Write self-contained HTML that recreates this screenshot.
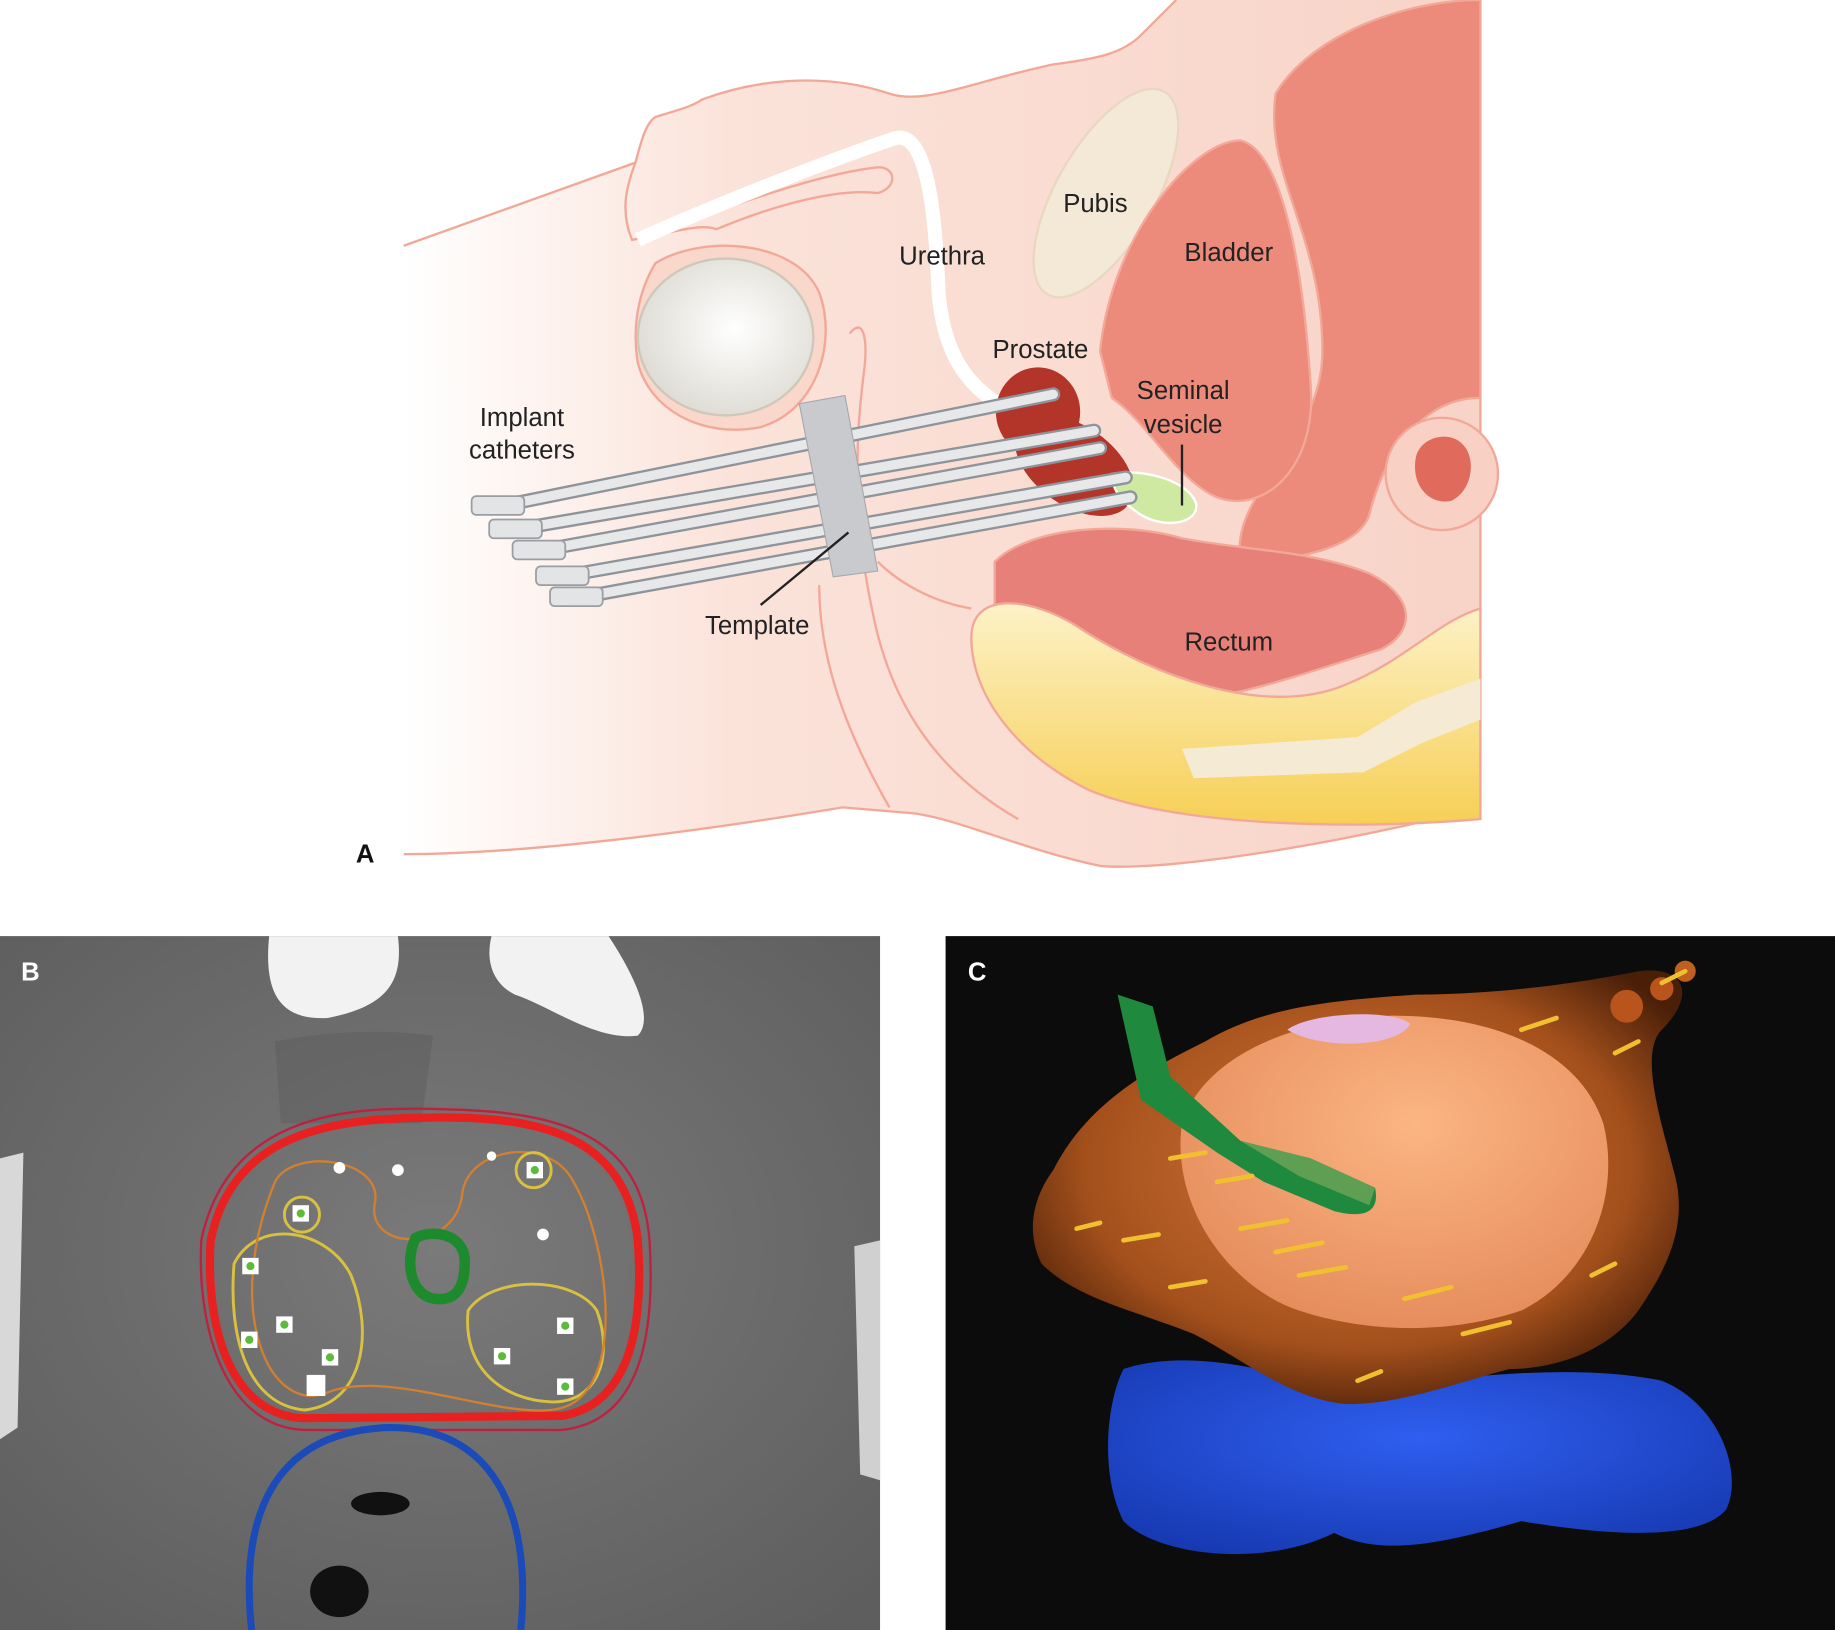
<!DOCTYPE html>
<html><head><meta charset="utf-8"><style>
html,body{margin:0;padding:0;background:#fff;}
svg{display:block;}
text{font-family:"Liberation Sans",Arial,sans-serif;}
</style></head><body>
<svg width="1835" height="1630" viewBox="0 0 1568 1393" preserveAspectRatio="none" xmlns="http://www.w3.org/2000/svg">
<defs>
<linearGradient id="skin" x1="0" x2="1" y1="0" y2="0">
<stop offset="0" stop-color="#ffffff"/><stop offset="0.3" stop-color="#fbe3da"/><stop offset="1" stop-color="#f8d3c7"/>
</linearGradient>
<radialGradient id="test" cx="0.55" cy="0.45" r="0.6">
<stop offset="0" stop-color="#ffffff"/><stop offset="1" stop-color="#dcdad2"/>
</radialGradient>
<linearGradient id="sac" x1="0" y1="0" x2="0" y2="1">
<stop offset="0" stop-color="#fdf2c8"/><stop offset="1" stop-color="#f6cf55"/>
</linearGradient>
<radialGradient id="org" cx="0.5" cy="0.45" r="0.6">
<stop offset="0" stop-color="#d8783a"/><stop offset="0.7" stop-color="#a4501c"/><stop offset="1" stop-color="#4a1f08"/>
</radialGradient>
<radialGradient id="peach" cx="0.55" cy="0.35" r="0.7">
<stop offset="0" stop-color="#fbb583"/><stop offset="1" stop-color="#e58a5a"/>
</radialGradient>
<radialGradient id="blu" cx="0.5" cy="0.4" r="0.7">
<stop offset="0" stop-color="#2f5ff0"/><stop offset="1" stop-color="#1638b0"/>
</radialGradient>
<radialGradient id="ct" cx="0.5" cy="0.45" r="0.7">
<stop offset="0" stop-color="#7a7a7a"/><stop offset="1" stop-color="#5e5e5e"/>
</radialGradient>
</defs>

<!-- Panel A -->
<path d="M345,210 L543,139 C548,120 552,105 560,100 C575,95 590,92 600,85 C640,70 700,60 760,80 C790,90 830,70 900,55 C940,50 960,45 975,30 L1005,0 L1265,0 L1265,690 C1150,720 1000,745 940,740 C870,725 820,700 780,695 L720,690 C600,710 450,730 345,730 Z" fill="url(#skin)"/>
<path d="M345,210 L543,139 C548,120 552,105 560,100 C575,95 590,92 600,85 C640,70 700,60 760,80 C790,90 830,70 900,55 C940,50 960,45 975,30 L1005,0 M1265,0 L1265,690 C1150,720 1000,745 940,740 C870,725 820,700 780,695 L720,690 C600,710 450,730 345,730" fill="none" stroke="#f2a898" stroke-width="2"/>
<!-- penis underside -->
<path d="M543,139 C535,160 530,180 540,205 C570,200 600,190 612,196 C650,180 710,160 750,165 C768,160 765,142 750,143 C700,148 620,178 555,200" fill="none" stroke="#f2a898" stroke-width="2"/>
<!-- scrotum -->
<path d="M560,225 C600,200 680,205 700,250 C715,290 700,350 650,365 C600,375 555,350 545,310 C540,280 545,250 560,225 Z" fill="#f9d7cb" stroke="#f2a898" stroke-width="2"/>
<ellipse cx="620" cy="288" rx="75" ry="67" fill="url(#test)" stroke="#cfc8b8" stroke-width="2"/>
<!-- perineum lines -->
<path d="M726,285 C738,270 742,290 738,320 C730,380 730,450 745,520 C760,600 800,660 870,700" fill="none" stroke="#f2a898" stroke-width="2"/>
<path d="M700,500 C700,560 720,620 760,690" fill="none" stroke="#f2a898" stroke-width="2"/>
<path d="M750,480 C770,500 800,515 830,520" fill="none" stroke="#f2a898" stroke-width="2"/>
<!-- pubis -->
<ellipse cx="945" cy="165" rx="42" ry="100" transform="rotate(30 945 165)" fill="#f3e9d6" stroke="#e9d8c0" stroke-width="2"/>
<!-- abdomen dark -->
<path d="M1090,80 C1120,30 1200,0 1265,0 L1265,340 C1220,340 1185,380 1170,440 C1160,470 1100,480 1060,480 C1050,420 1130,380 1130,300 C1130,200 1080,150 1090,80 Z" fill="#ec8a7c" stroke="#f2a898" stroke-width="2"/>
<!-- bladder -->
<path d="M940,300 C950,200 1020,120 1060,120 C1100,130 1115,250 1120,330 C1125,400 1080,440 1040,425 C1005,410 980,360 950,340 Z" fill="#ec8a7c" stroke="#f4a89a" stroke-width="2"/>
<!-- colon loop -->
<circle cx="1232" cy="405" r="48" fill="#f8d0c4" stroke="#f2a898" stroke-width="2"/>
<path d="M1210,390 C1215,372 1240,368 1250,380 C1262,392 1258,420 1240,428 C1222,432 1205,415 1210,390 Z" fill="#e06a5c"/>
<!-- rectum -->
<path d="M850,480 C880,450 960,445 1010,460 C1060,470 1120,470 1170,490 C1210,510 1210,540 1180,555 C1100,580 1050,600 980,600 C920,600 870,560 850,520 Z" fill="#e8807a" stroke="#f2a898" stroke-width="2"/>
<!-- sacrum -->
<path d="M830,545 C830,505 880,510 920,535 C980,575 1080,615 1150,585 C1200,565 1230,530 1265,520 L1265,700 C1150,710 1000,705 930,675 C870,645 830,595 830,545 Z" fill="url(#sac)" stroke="#f2a898" stroke-width="2"/>
<path d="M1010,640 L1160,630 L1210,600 L1265,580 L1265,615 L1215,635 L1165,660 L1020,665 Z" fill="#f5ebd5"/>
<!-- urethra -->
<path d="M545,205 C600,180 700,140 765,118 C795,110 800,200 802,250 C806,300 825,335 872,355 C905,370 940,392 968,420" fill="none" stroke="#fff" stroke-width="12"/>
<!-- prostate -->
<ellipse cx="887" cy="352" rx="36" ry="38" fill="#b33428"/>
<ellipse cx="918" cy="398" rx="57" ry="34" transform="rotate(35 918 398)" fill="#b33428"/>
<!-- seminal vesicle -->
<path d="M950,405 C975,400 1015,410 1022,430 C1025,448 995,452 975,440 C960,430 950,420 950,405 Z" fill="#cfe9a3" stroke="#fff" stroke-width="2"/>
<!-- catheters -->
<g stroke="#8f949a" stroke-width="12" stroke-linecap="round">
<line x1="440" y1="430" x2="900" y2="337"/><line x1="455" y1="450" x2="935" y2="368"/>
<line x1="475" y1="468" x2="940" y2="383"/><line x1="495" y1="490" x2="962" y2="408"/>
<line x1="510" y1="508" x2="966" y2="425"/>
</g>
<g stroke="#e6e8ea" stroke-width="8" stroke-linecap="round">
<line x1="440" y1="430" x2="900" y2="337"/><line x1="455" y1="450" x2="935" y2="368"/>
<line x1="475" y1="468" x2="940" y2="383"/><line x1="495" y1="490" x2="962" y2="408"/>
<line x1="510" y1="508" x2="966" y2="425"/>
</g>
<g fill="#e2e4e6" stroke="#9a9ea3" stroke-width="1.5">
<rect x="403" y="424" width="45" height="16" rx="4"/><rect x="418" y="444" width="45" height="16" rx="4"/>
<rect x="438" y="462" width="45" height="16" rx="4"/><rect x="458" y="484" width="45" height="16" rx="4"/>
<rect x="470" y="502" width="45" height="16" rx="4"/>
</g>
<!-- template -->
<polygon points="683,345 722,338 750,488 712,493" fill="#c8cace" stroke="#a8aaae" stroke-width="1"/>
<line x1="650" y1="517" x2="725" y2="455" stroke="#222" stroke-width="2"/>
<line x1="1010" y1="380" x2="1010" y2="432" stroke="#222" stroke-width="2"/>
<g font-size="22" fill="#222" text-anchor="middle">
<text x="936" y="181">Pubis</text>
<text x="805" y="226">Urethra</text>
<text x="1050" y="223">Bladder</text>
<text x="889" y="306">Prostate</text>
<text x="1011" y="341">Seminal</text>
<text x="1011" y="370">vesicle</text>
<text x="446" y="364">Implant</text>
<text x="446" y="392">catheters</text>
<text x="647" y="542">Template</text>
<text x="1050" y="556">Rectum</text>
</g>
<text x="312" y="737" font-size="22" font-weight="bold" fill="#111" text-anchor="middle">A</text>

<!-- Panel B -->
<rect x="0" y="800" width="752" height="593" fill="url(#ct)"/>
<path d="M0,990 L20,985 L15,1220 L0,1230 Z" fill="#d8d8d8"/>
<path d="M752,1060 L730,1065 L735,1260 L752,1265 Z" fill="#d0d0d0"/>
<path d="M230,800 L340,800 C345,840 330,860 280,870 C240,872 225,850 230,800 Z" fill="#f2f2f2"/>
<path d="M420,800 L520,800 C540,830 560,870 545,885 C510,890 470,860 440,850 C420,840 415,820 420,800 Z" fill="#f2f2f2"/>
<path d="M235,890 C290,880 330,880 370,885 L360,960 L240,960 Z" fill="#555" opacity="0.35"/>
<path d="M180,1060 C200,960 300,955 380,955 C470,955 535,975 545,1060 C550,1130 540,1200 480,1210 L260,1212 C200,1210 175,1140 180,1060 Z" fill="none" stroke="#e82020" stroke-width="7"/>
<path d="M172,1060 C195,950 300,945 380,948 C480,950 548,970 555,1060 C560,1140 548,1215 480,1222 L260,1222 C195,1220 168,1140 172,1060 Z" fill="none" stroke="#c02040" stroke-width="2"/>
<path d="M200,1080 C220,1040 280,1050 300,1090 C320,1140 310,1200 260,1205 C210,1200 195,1140 200,1080 Z" fill="none" stroke="#d8c040" stroke-width="2.5"/>
<path d="M400,1120 C420,1090 490,1090 510,1120 C525,1160 510,1200 470,1198 C430,1196 395,1170 400,1120 Z" fill="none" stroke="#d8c040" stroke-width="2.5"/>
<path d="M235,1010 C250,980 330,990 320,1030 C315,1070 390,1070 395,1020 C400,980 470,970 490,1010 C520,1060 540,1200 470,1205 C420,1210 330,1170 280,1190 C230,1210 190,1120 235,1010 Z" fill="none" stroke="#d08030" stroke-width="2"/>
<circle cx="258" cy="1038" r="15" fill="none" stroke="#d8c040" stroke-width="2.5"/>
<circle cx="456" cy="1000" r="15" fill="none" stroke="#d8c040" stroke-width="2.5"/>
<path d="M355,1058 C370,1050 395,1055 397,1075 C398,1100 390,1112 372,1110 C352,1108 345,1080 355,1058 Z" fill="none" stroke="#1e8a2e" stroke-width="9"/>
<g fill="#fff">
<rect x="207" y="1075" width="14" height="14"/><rect x="236" y="1125" width="14" height="14"/>
<rect x="206" y="1138" width="14" height="14"/><rect x="275" y="1153" width="14" height="14"/>
<rect x="262" y="1175" width="16" height="18"/><rect x="422" y="1152" width="14" height="14"/>
<rect x="476" y="1126" width="14" height="14"/><rect x="476" y="1178" width="14" height="14"/>
<rect x="250" y="1030" width="14" height="14"/><rect x="450" y="993" width="14" height="14"/>
<circle cx="290" cy="998" r="5"/><circle cx="340" cy="1000" r="5"/><circle cx="420" cy="988" r="4"/><circle cx="464" cy="1055" r="5"/>
</g>
<g fill="#5dbb3a">
<circle cx="214" cy="1082" r="3.5"/><circle cx="243" cy="1132" r="3.5"/><circle cx="213" cy="1145" r="3.5"/>
<circle cx="282" cy="1160" r="3.5"/><circle cx="429" cy="1159" r="3.5"/><circle cx="483" cy="1133" r="3.5"/>
<circle cx="483" cy="1185" r="3.5"/><circle cx="257" cy="1037" r="3.5"/><circle cx="457" cy="1000" r="3.5"/>
</g>
<path d="M215,1393 C205,1300 230,1225 330,1220 C420,1218 455,1290 445,1393" fill="none" stroke="#1a4bb8" stroke-width="6"/>
<ellipse cx="325" cy="1285" rx="25" ry="10" fill="#111"/>
<ellipse cx="290" cy="1360" rx="25" ry="22" fill="#111"/>
<text x="26" y="838" font-size="22" font-weight="bold" fill="#fff" text-anchor="middle">B</text>

<!-- Panel C -->
<rect x="808" y="800" width="760" height="593" fill="#0c0c0c"/>
<path d="M960,1170 C1020,1150 1100,1175 1150,1190 C1250,1175 1350,1165 1420,1180 C1470,1200 1490,1260 1475,1290 C1450,1320 1360,1310 1300,1300 C1230,1320 1180,1330 1140,1310 C1080,1340 990,1330 960,1300 C940,1260 945,1200 960,1170 Z" fill="url(#blu)"/>
<path d="M900,1000 C930,940 990,910 1030,890 C1080,860 1140,855 1210,850 C1280,850 1350,840 1400,830 C1440,825 1450,850 1420,880 C1400,900 1420,960 1430,1000 C1445,1050 1420,1090 1400,1120 C1370,1160 1320,1170 1290,1170 C1250,1180 1200,1200 1150,1200 C1100,1195 1060,1160 1020,1140 C970,1120 920,1110 890,1080 C875,1050 885,1020 900,1000 Z" fill="url(#org)"/>
<circle cx="1390" cy="860" r="14" fill="#b8541c"/><circle cx="1420" cy="845" r="10" fill="#b8541c"/><circle cx="1440" cy="830" r="9" fill="#c0601e"/>
<path d="M1010,960 C1030,900 1110,870 1190,868 C1280,868 1350,900 1370,960 C1385,1020 1360,1090 1300,1120 C1240,1140 1170,1140 1110,1120 C1050,1100 1000,1030 1010,960 Z" fill="url(#peach)"/>
<path d="M1100,880 C1120,865 1190,862 1205,875 C1195,895 1130,898 1100,880 Z" fill="#e4b8e0"/>
<path d="M955,850 L985,860 L1000,920 L1060,975 L1120,990 L1175,1015 C1180,1040 1160,1040 1140,1035 L1080,1010 L1040,985 L975,940 Z" fill="#1f8a3e"/>
<path d="M1060,975 L1120,990 L1175,1015 L1170,1030 L1110,1005 Z" fill="#6fa45a" opacity="0.8"/>
<g stroke="#f0c030" stroke-width="4" stroke-linecap="round">
<line x1="1000" y1="990" x2="1030" y2="985"/><line x1="1040" y1="1010" x2="1070" y2="1005"/><line x1="960" y1="1060" x2="990" y2="1055"/>
<line x1="1060" y1="1050" x2="1100" y2="1043"/><line x1="1090" y1="1070" x2="1130" y2="1062"/><line x1="1110" y1="1090" x2="1150" y2="1083"/>
<line x1="1200" y1="1110" x2="1240" y2="1100"/><line x1="1250" y1="1140" x2="1290" y2="1130"/><line x1="1360" y1="1090" x2="1380" y2="1080"/>
<line x1="1300" y1="880" x2="1330" y2="870"/><line x1="1380" y1="900" x2="1400" y2="890"/><line x1="1420" y1="840" x2="1440" y2="830"/>
<line x1="1160" y1="1180" x2="1180" y2="1172"/><line x1="920" y1="1050" x2="940" y2="1045"/><line x1="1000" y1="1100" x2="1030" y2="1095"/>
</g>
<text x="835" y="838" font-size="22" font-weight="bold" fill="#fff" text-anchor="middle">C</text>
</svg>
</body></html>
